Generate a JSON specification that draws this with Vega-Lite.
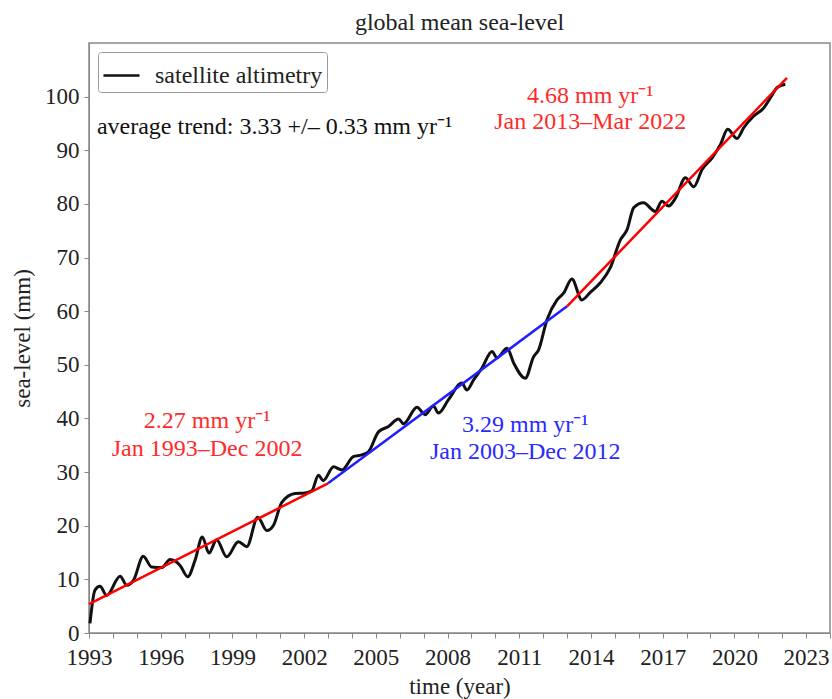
{
  "$schema": "https://vega.github.io/schema/vega-lite/v6.json",
  "autosize": "none",
  "width": 741,
  "height": 590,
  "padding": {"left": 89, "top": 43, "right": 2, "bottom": 66},
  "background": "white",
  "title": {"text": "global mean sea-level", "font": "Liberation Serif", "fontSize": 24, "fontWeight": "normal", "color": "#222", "offset": 8},
  "config": {
    "font": "Liberation Serif",
    "view": {"stroke": "#888", "strokeWidth": 1.5},
    "legend": {"labelFont": "Liberation Serif", "labelFontSize": 24, "labelLimit": 400},
    "axis": {"labelFont": "Liberation Serif", "titleFont": "Liberation Serif", "labelFontSize": 23, "titleFontSize": 23, "titleFontWeight": "normal", "labelColor": "#222", "titleColor": "#222", "domainColor": "#888", "tickColor": "#888", "grid": false, "tickSize": 5}
  },
  "datasets": {
    "sea": [
      {"year": 1993.04, "mm": 1.8, "series": "satellite altimetry"},
      {"year": 1993.25, "mm": 8.0, "series": "satellite altimetry"},
      {"year": 1993.46, "mm": 8.7, "series": "satellite altimetry"},
      {"year": 1993.74, "mm": 7.0, "series": "satellite altimetry"},
      {"year": 1994.3, "mm": 10.6, "series": "satellite altimetry"},
      {"year": 1994.58, "mm": 8.9, "series": "satellite altimetry"},
      {"year": 1994.86, "mm": 9.8, "series": "satellite altimetry"},
      {"year": 1995.27, "mm": 14.3, "series": "satellite altimetry"},
      {"year": 1995.62, "mm": 12.3, "series": "satellite altimetry"},
      {"year": 1996.04, "mm": 12.2, "series": "satellite altimetry"},
      {"year": 1996.39, "mm": 13.7, "series": "satellite altimetry"},
      {"year": 1996.81, "mm": 12.6, "series": "satellite altimetry"},
      {"year": 1997.13, "mm": 10.5, "series": "satellite altimetry"},
      {"year": 1997.44, "mm": 13.6, "series": "satellite altimetry"},
      {"year": 1997.74, "mm": 17.9, "series": "satellite altimetry"},
      {"year": 1998.02, "mm": 14.9, "series": "satellite altimetry"},
      {"year": 1998.34, "mm": 17.4, "series": "satellite altimetry"},
      {"year": 1998.76, "mm": 14.2, "series": "satellite altimetry"},
      {"year": 1999.25, "mm": 17.0, "series": "satellite altimetry"},
      {"year": 1999.6, "mm": 16.1, "series": "satellite altimetry"},
      {"year": 2000.06, "mm": 21.6, "series": "satellite altimetry"},
      {"year": 2000.44, "mm": 19.1, "series": "satellite altimetry"},
      {"year": 2000.72, "mm": 20.1, "series": "satellite altimetry"},
      {"year": 2001.06, "mm": 24.3, "series": "satellite altimetry"},
      {"year": 2001.62, "mm": 26.0, "series": "satellite altimetry"},
      {"year": 2002.04, "mm": 26.1, "series": "satellite altimetry"},
      {"year": 2002.32, "mm": 26.5, "series": "satellite altimetry"},
      {"year": 2002.6, "mm": 29.4, "series": "satellite altimetry"},
      {"year": 2002.8, "mm": 28.4, "series": "satellite altimetry"},
      {"year": 2003.23, "mm": 31.0, "series": "satellite altimetry"},
      {"year": 2003.58, "mm": 30.4, "series": "satellite altimetry"},
      {"year": 2004.06, "mm": 32.9, "series": "satellite altimetry"},
      {"year": 2004.41, "mm": 33.2, "series": "satellite altimetry"},
      {"year": 2004.69, "mm": 33.8, "series": "satellite altimetry"},
      {"year": 2005.11, "mm": 37.5, "series": "satellite altimetry"},
      {"year": 2005.53, "mm": 38.5, "series": "satellite altimetry"},
      {"year": 2005.95, "mm": 39.9, "series": "satellite altimetry"},
      {"year": 2006.16, "mm": 39.0, "series": "satellite altimetry"},
      {"year": 2006.72, "mm": 42.1, "series": "satellite altimetry"},
      {"year": 2007.06, "mm": 40.7, "series": "satellite altimetry"},
      {"year": 2007.41, "mm": 42.3, "series": "satellite altimetry"},
      {"year": 2007.62, "mm": 41.0, "series": "satellite altimetry"},
      {"year": 2008.04, "mm": 43.5, "series": "satellite altimetry"},
      {"year": 2008.6, "mm": 46.6, "series": "satellite altimetry"},
      {"year": 2008.81, "mm": 45.3, "series": "satellite altimetry"},
      {"year": 2009.09, "mm": 47.2, "series": "satellite altimetry"},
      {"year": 2009.44, "mm": 49.4, "series": "satellite altimetry"},
      {"year": 2009.86, "mm": 52.5, "series": "satellite altimetry"},
      {"year": 2010.07, "mm": 51.3, "series": "satellite altimetry"},
      {"year": 2010.49, "mm": 53.1, "series": "satellite altimetry"},
      {"year": 2010.77, "mm": 50.3, "series": "satellite altimetry"},
      {"year": 2011.25, "mm": 47.5, "series": "satellite altimetry"},
      {"year": 2011.6, "mm": 51.5, "series": "satellite altimetry"},
      {"year": 2011.81, "mm": 52.8, "series": "satellite altimetry"},
      {"year": 2012.16, "mm": 58.4, "series": "satellite altimetry"},
      {"year": 2012.58, "mm": 62.1, "series": "satellite altimetry"},
      {"year": 2012.86, "mm": 63.4, "series": "satellite altimetry"},
      {"year": 2013.2, "mm": 66.0, "series": "satellite altimetry"},
      {"year": 2013.62, "mm": 62.1, "series": "satellite altimetry"},
      {"year": 2013.97, "mm": 63.5, "series": "satellite altimetry"},
      {"year": 2014.39, "mm": 65.3, "series": "satellite altimetry"},
      {"year": 2014.81, "mm": 68.1, "series": "satellite altimetry"},
      {"year": 2015.23, "mm": 73.3, "series": "satellite altimetry"},
      {"year": 2015.51, "mm": 75.2, "series": "satellite altimetry"},
      {"year": 2015.79, "mm": 79.3, "series": "satellite altimetry"},
      {"year": 2016.2, "mm": 80.2, "series": "satellite altimetry"},
      {"year": 2016.69, "mm": 78.6, "series": "satellite altimetry"},
      {"year": 2016.97, "mm": 80.5, "series": "satellite altimetry"},
      {"year": 2017.25, "mm": 79.6, "series": "satellite altimetry"},
      {"year": 2017.54, "mm": 81.1, "series": "satellite altimetry"},
      {"year": 2017.95, "mm": 84.9, "series": "satellite altimetry"},
      {"year": 2018.3, "mm": 83.2, "series": "satellite altimetry"},
      {"year": 2018.65, "mm": 86.4, "series": "satellite altimetry"},
      {"year": 2019.07, "mm": 88.6, "series": "satellite altimetry"},
      {"year": 2019.42, "mm": 91.1, "series": "satellite altimetry"},
      {"year": 2019.72, "mm": 93.9, "series": "satellite altimetry"},
      {"year": 2020.11, "mm": 92.2, "series": "satellite altimetry"},
      {"year": 2020.39, "mm": 94.2, "series": "satellite altimetry"},
      {"year": 2020.81, "mm": 96.4, "series": "satellite altimetry"},
      {"year": 2021.23, "mm": 97.9, "series": "satellite altimetry"},
      {"year": 2021.51, "mm": 99.8, "series": "satellite altimetry"},
      {"year": 2021.79, "mm": 101.7, "series": "satellite altimetry"},
      {"year": 2022.13, "mm": 102.3, "series": "satellite altimetry"}
    ],
    "trends": [
      {"period": "1993–2002", "year": 1993.0, "mm": 5.4},
      {"period": "1993–2002", "year": 2003.0, "mm": 27.9},
      {"period": "2003–2012", "year": 2003.0, "mm": 27.9},
      {"period": "2003–2012", "year": 2013.0, "mm": 60.9},
      {"period": "2013–2022", "year": 2013.0, "mm": 60.9},
      {"period": "2013–2022", "year": 2022.2, "mm": 103.5}
    ],
    "labels": [
      {"period": "average", "year": 1993.33, "mm": 94.4, "text": "average trend: 3.33 +/– 0.33 mm yr⁻¹", "anchor": "left"},
      {"period": "2013–2022", "year": 2013.97, "mm": 100.2, "text": "4.68 mm yr⁻¹", "anchor": "center"},
      {"period": "2013–2022", "year": 2013.97, "mm": 95.2, "text": "Jan 2013–Mar 2022", "anchor": "center"},
      {"period": "1993–2002", "year": 1997.94, "mm": 39.5, "text": "2.27 mm yr⁻¹", "anchor": "center"},
      {"period": "1993–2002", "year": 1997.94, "mm": 34.3, "text": "Jan 1993–Dec 2002", "anchor": "center"},
      {"period": "2003–2012", "year": 2011.25, "mm": 38.8, "text": "3.29 mm yr⁻¹", "anchor": "center"},
      {"period": "2003–2012", "year": 2011.25, "mm": 33.7, "text": "Jan 2003–Dec 2012", "anchor": "center"}
    ]
  },
  "encoding": {
    "x": {"field": "year", "type": "quantitative", "scale": {"domain": [1993, 2024], "nice": false, "zero": false},
      "axis": {"title": "time (year)", "values": [1993,1994,1995,1996,1997,1998,1999,2000,2001,2002,2003,2004,2005,2006,2007,2008,2009,2010,2011,2012,2013,2014,2015,2016,2017,2018,2019,2020,2021,2022,2023,2024], "labelExpr": "(datum.value - 1993) % 3 == 0 ? datum.value : ''", "format": "d", "labelPadding": 8, "titlePadding": 6, "labelFlush": false, "labelOverlap": false}},
    "y": {"field": "mm", "type": "quantitative", "scale": {"domain": [0, 110], "nice": false},
      "axis": {"title": "sea-level (mm)", "values": [0,10,20,30,40,50,60,70,80,90,100], "labelPadding": 5, "titlePadding": 10}}
  },
  "layer": [
    {
      "data": {"name": "sea"},
      "mark": {"type": "line", "strokeWidth": 3, "interpolate": "monotone"},
      "encoding": {
        "color": {"field": "series", "type": "nominal", "scale": {"domain": ["satellite altimetry"], "range": ["#111111"]},
          "legend": {"title": null, "orient": "none", "legendX": 9, "legendY": 9, "symbolType": "stroke", "symbolStrokeWidth": 2.5, "symbolSize": 1300, "labelOffset": 14, "labelLimit": 400, "labelFont": "Liberation Serif", "labelFontSize": 24, "labelColor": "#222", "fillColor": "white", "strokeColor": "#999", "padding": 4, "cornerRadius": 3}}
      }
    },
    {
      "data": {"name": "trends"},
      "mark": {"type": "line", "strokeWidth": 2.5},
      "encoding": {
        "color": {"field": "period", "type": "nominal", "scale": {"domain": ["1993–2002", "2003–2012", "2013–2022", "average"], "range": ["#ff0000", "#1f1fff", "#ff0000", "#111111"]}, "legend": null}
      }
    },
    {
      "data": {"name": "labels"},
      "transform": [{"filter": "datum.anchor == 'center'"}],
      "mark": {"type": "text", "font": "Liberation Serif", "fontSize": 24, "align": "center", "baseline": "middle"},
      "encoding": {
        "text": {"field": "text"},
        "color": {"field": "period", "type": "nominal", "scale": {"domain": ["1993–2002", "2003–2012", "2013–2022", "average"], "range": ["#ff2a2a", "#2a2aff", "#ff2a2a", "#111111"]}, "legend": null}
      }
    },
    {
      "data": {"name": "labels"},
      "transform": [{"filter": "datum.anchor == 'left'"}],
      "mark": {"type": "text", "font": "Liberation Serif", "fontSize": 24, "align": "left", "baseline": "middle"},
      "encoding": {
        "text": {"field": "text"},
        "color": {"field": "period", "type": "nominal", "scale": {"domain": ["1993–2002", "2003–2012", "2013–2022", "average"], "range": ["#ff2a2a", "#2a2aff", "#ff2a2a", "#111111"]}, "legend": null}
      }
    }
  ],
  "resolve": {"scale": {"color": "independent"}}
}
